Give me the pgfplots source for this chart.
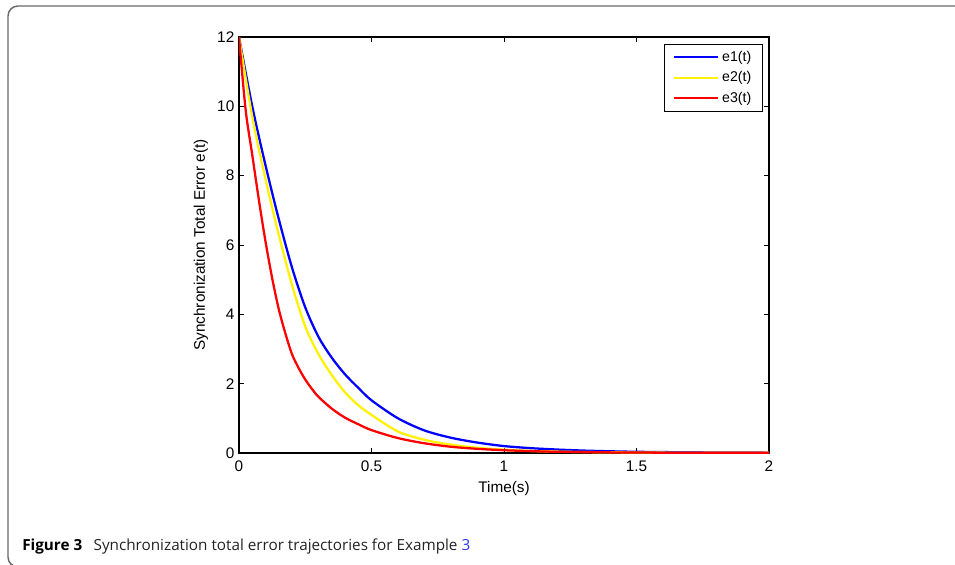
\documentclass[border=0pt]{standalone}
\usepackage{fontspec}
\setmainfont{Liberation Sans}
\newfontfamily\capfont{Open Sans}
\usepackage{pgfplots}
\pgfplotsset{compat=1.18}
\definecolor{framegray}{RGB}{105,105,105}
\definecolor{linkblue}{RGB}{45,60,230}
\definecolor{captext}{RGB}{35,35,35}

\begin{document}
\begin{tikzpicture}
\useasboundingbox (0,0) rectangle (716.25pt,423pt);
% frame and caption, in pixel units of the reference (y down)
\begin{scope}[x=0.75pt,y=-0.75pt,yshift=423pt]
  \draw[framegray,line width=1.1pt,rounded corners=7.5pt] (962,6) -- (8,6) -- (8,567) -- (962,567);
  \node[anchor=base west,inner sep=0pt,text=captext,font=\capfont\fontsize{11.45}{13}\selectfont]
    at (22,550) {{\bfseries\color{black}Figure 3}\hspace{8.5pt}Synchronization total error trajectories for Example {\color{linkblue}3}};
\end{scope}

\begin{axis}[
  at={(179.25pt,83.25pt)}, anchor=south west,
  scale only axis, width=397.5pt, height=312pt,
  xmin=0, xmax=2, ymin=0, ymax=12,
  xtick={0,0.5,1,1.5,2}, ytick={0,2,4,6,8,10,12},
  tick align=inside, major tick length=4pt,
  axis line style={line width=0.8pt},
  every tick/.style={black,line width=0.6pt},
  /pgf/number format/assume math mode=true,
  tick label style={font=\fontsize{11.5}{13}\selectfont},
  xticklabel style={yshift=-2.5pt},
  label style={font=\fontsize{11.5}{13}\selectfont},
  xlabel={Time(s)},
  ylabel={Synchronization Total Error e(t)},
  legend style={at={(0.9887,0.983)}, anchor=north east, draw=black, line width=0.6pt,
    font=\fontsize{10.6}{12}\selectfont, inner xsep=6.5pt, inner ysep=3pt,
    row sep=2.2pt, cells={anchor=west},
    /tikz/every odd column/.append style={column sep=0pt},
    /tikz/every even column/.append style={column sep=6pt}},
  legend image code/.code={\draw[#1,line width=1.7pt] (0pt,0pt) -- (33pt,0pt);},
]
\addplot[blue, line width=1.7pt, smooth] coordinates {
  (0,12) (0.05,10.0) (0.1,8.3) (0.15,6.75) (0.2,5.35) (0.25,4.2) (0.3,3.35)
  (0.35,2.75) (0.4,2.27) (0.45,1.88) (0.5,1.52) (0.6,1.0) (0.7,0.65) (0.8,0.44)
  (0.9,0.3) (1.0,0.2) (1.1,0.14) (1.2,0.1) (1.3,0.07) (1.4,0.05) (1.5,0.035)
  (1.7,0.02) (2.0,0.01)};
\addlegendentry{e1(t)}
\addplot[yellow, line width=1.7pt, smooth] coordinates {
  (0,12) (0.05,9.7) (0.1,7.9) (0.15,6.3) (0.2,4.85) (0.25,3.65) (0.3,2.85)
  (0.35,2.25) (0.4,1.75) (0.45,1.38) (0.5,1.1) (0.6,0.62) (0.7,0.38) (0.8,0.24)
  (0.9,0.15) (1.0,0.095) (1.1,0.06) (1.2,0.04) (1.3,0.028) (1.5,0.015)
  (1.7,0.008) (2.0,0.004)};
\addlegendentry{e2(t)}
\addplot[red, line width=1.7pt, smooth] coordinates {
  (0,12) (0.025,9.9) (0.05,8.6) (0.075,7.3) (0.1,6.1) (0.125,5.05) (0.15,4.15)
  (0.175,3.45) (0.2,2.85) (0.225,2.45) (0.25,2.12) (0.275,1.85) (0.3,1.62)
  (0.35,1.28) (0.4,1.02) (0.45,0.83) (0.5,0.66) (0.6,0.43) (0.7,0.28) (0.8,0.18)
  (0.9,0.12) (1.0,0.08) (1.1,0.055) (1.2,0.035) (1.4,0.018) (1.6,0.01) (2.0,0.004)};
\addlegendentry{e3(t)}
\end{axis}
\end{tikzpicture}
\end{document}
